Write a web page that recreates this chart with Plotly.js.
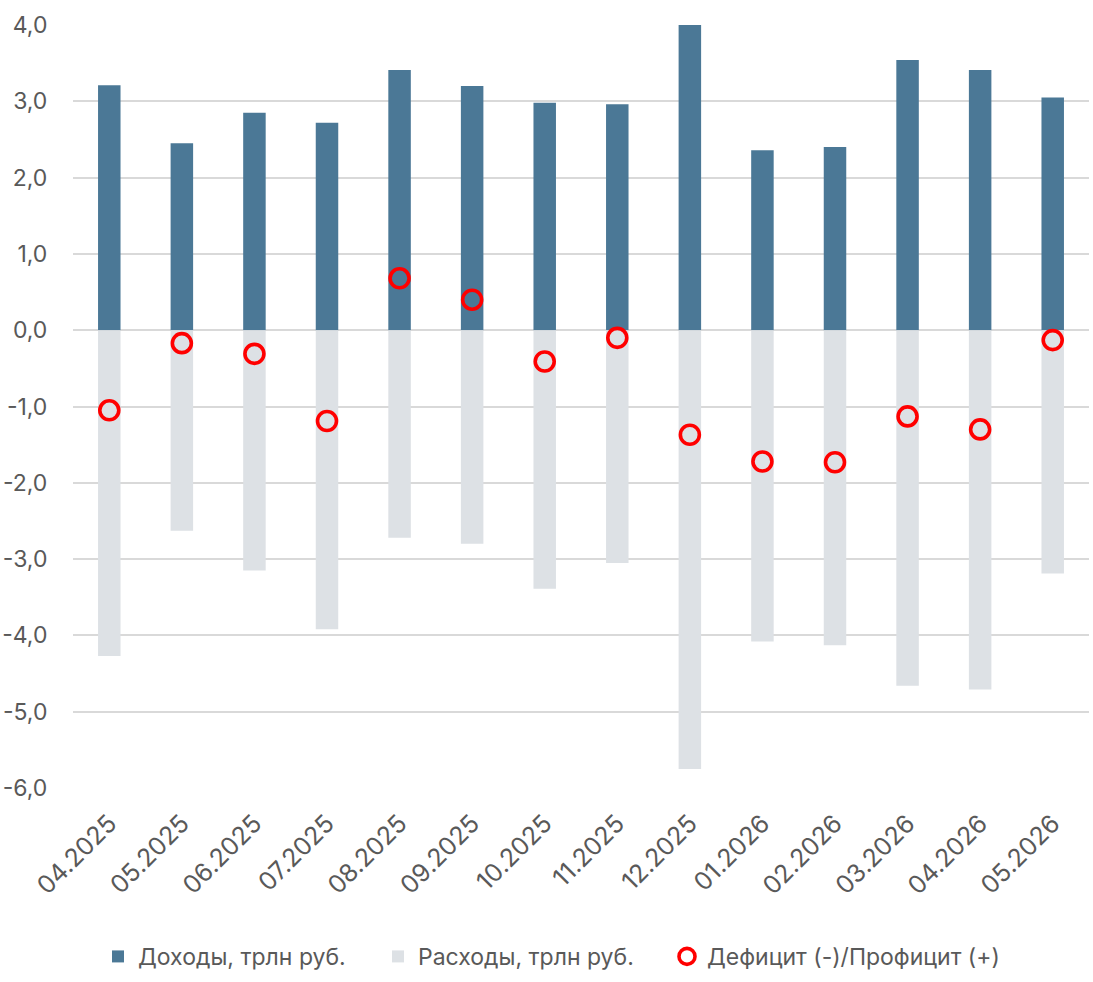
<!DOCTYPE html>
<html>
<head>
<meta charset="utf-8">
<script src="https://cdn.plot.ly/plotly-3.0.1.min.js"></script>
<style>
  html, body { margin: 0; padding: 0; background: #fff; }
  #chart { width: 1093px; height: 982px; }
</style>
</head>
<body>
<div id="chart"></div>
<script>
// Monthly federal budget: revenues, expenditures and balance, trillion rubles
const months = ['04.2025', '05.2025', '06.2025', '07.2025', '08.2025', '09.2025', '10.2025',
                '11.2025', '12.2025', '01.2026', '02.2026', '03.2026', '04.2026', '05.2026'];
const revenues = [3.21, 2.45, 2.85, 2.72, 3.41, 3.20, 2.98, 2.96, 4.38, 2.36, 2.40, 3.54, 3.41, 3.05];
const expenditures = [-4.27, -2.63, -3.15, -3.92, -2.72, -2.80, -3.39, -3.05, -5.75, -4.08, -4.13, -4.66, -4.71, -3.19];
const balance = [-1.05, -0.17, -0.31, -1.19, 0.68, 0.40, -0.41, -0.10, -1.37, -1.72, -1.73, -1.13, -1.30, -0.13];

const yTickVals = [4, 3, 2, 1, 0, -1, -2, -3, -4, -5, -6];
const yTickText = ['4,0', '3,0', '2,0', '1,0', '0,0', '-1,0', '-2,0', '-3,0', '-4,0', '-5,0', '-6,0'];

const FONT = 'Inter, "Open Sans", "DejaVu Sans", sans-serif';
const TEXT = '#595959';

const traces = [
  {
    type: 'bar', name: 'Доходы, трлн руб.', legend: 'legend',
    x: months, y: revenues, width: 0.31,
    marker: { color: '#4B7896' },
    hoverinfo: 'x+y'
  },
  {
    type: 'bar', name: 'Расходы, трлн руб.', legend: 'legend2',
    x: months, y: expenditures, width: 0.31,
    marker: { color: '#DDE1E5' },
    hoverinfo: 'x+y'
  },
  {
    type: 'scatter', mode: 'markers', name: 'Дефицит (-)/Профицит (+)', legend: 'legend3',
    x: months, y: balance,
    marker: { symbol: 'circle-open', size: 19, color: '#FF0000', line: { width: 3.6, color: '#FF0000' } },
    cliponaxis: false,
    hoverinfo: 'x+y'
  }
];

// one legend per series so each entry sits at its own spot in the bottom row
function legendAt(left) {
  return {
    orientation: 'h', x: left, xanchor: 'left', xref: 'container',
    y: 0.026, yanchor: 'middle', yref: 'container',
    font: { family: FONT, size: 23, color: TEXT },
    itemwidth: 30, bgcolor: 'rgba(0,0,0,0)'
  };
}

const layout = {
  width: 1093, height: 982,
  margin: { l: 73, r: 4, t: 25, b: 194 },
  paper_bgcolor: '#fff', plot_bgcolor: '#fff',
  barmode: 'relative',
  font: { family: FONT, color: TEXT, size: 21 },
  showlegend: true,
  legend: legendAt(98 / 1093),
  legend2: legendAt(378 / 1093),
  legend3: legendAt(667 / 1093),
  xaxis: {
    type: 'category', range: [-0.5, 13.5],
    showgrid: false, zeroline: false, showline: false,
    automargin: false,
    tickangle: -45, ticks: 'outside', ticklen: 10, tickcolor: 'rgba(0,0,0,0)',
    tickfont: { family: FONT, size: 25, color: TEXT },
    fixedrange: true
  },
  yaxis: {
    range: [-6, 4], tickmode: 'array', tickvals: yTickVals, ticktext: yTickText,
    automargin: false,
    showgrid: true, gridcolor: '#D9D9D9', gridwidth: 1.6,
    zeroline: true, zerolinecolor: '#D9D9D9', zerolinewidth: 1.6,
    showline: false, ticks: 'outside', ticklen: 20, tickcolor: 'rgba(0,0,0,0)',
    tickfont: { family: FONT, size: 23, color: TEXT },
    fixedrange: true
  }
};

Plotly.newPlot('chart', traces, layout, { displayModeBar: false });
</script>
</body>
</html>
